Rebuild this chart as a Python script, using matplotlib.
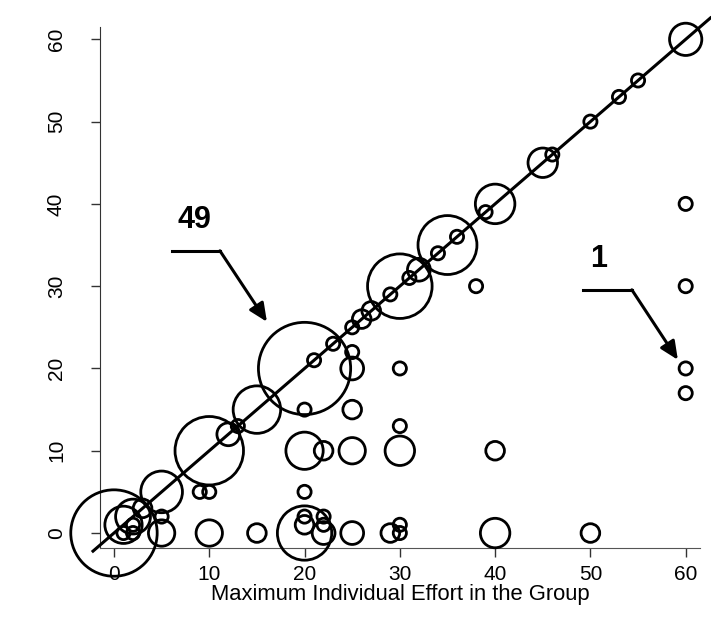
import matplotlib
matplotlib.use("Agg")
import matplotlib.pyplot as plt
import numpy as np

plt.rcParams['font.family'] = ['Liberation Sans', 'DejaVu Sans']

# %% Daten (x = max. Einzelaufwand, y = Gruppenwert, n = Anzahl)
x_max = [0, 1, 2, 3, 1, 2, 2, 5, 5, 5, 9, 10, 10, 10, 12, 13, 15, 15,
         20, 20, 20, 20, 20, 20, 20, 21, 22, 22, 22, 22, 23,
         25, 25, 25, 25, 25, 25, 26, 27, 29, 29,
         30, 30, 30, 30, 30, 30, 31, 32, 34, 35, 36, 38, 39,
         40, 40, 40, 45, 46, 50, 50, 53, 55, 60, 60, 60, 60, 60]
y_grp = [0, 1, 2, 3, 0, 0, 1, 5, 2, 0, 5, 5, 10, 0, 12, 13, 15, 0,
         20, 15, 10, 5, 2, 1, 0, 21, 10, 2, 1, 0, 23,
         25, 22, 20, 15, 10, 0, 26, 27, 29, 0,
         30, 20, 13, 10, 1, 0, 31, 32, 34, 35, 36, 30, 39,
         40, 10, 0, 45, 46, 50, 0, 53, 55, 60, 40, 30, 20, 17]
count = [43, 8, 7, 2, 1, 1, 1, 10, 1, 4, 1, 1, 27, 4, 3, 1, 13, 2,
         49, 1, 8, 1, 1, 2, 17, 1, 2, 1, 1, 3, 1,
         1, 1, 3, 2, 4, 3, 2, 2, 1, 2,
         24, 1, 1, 5, 1, 1, 1, 3, 1, 20, 1, 1, 1,
         9, 2, 5, 5, 1, 1, 2, 1, 1, 6, 1, 1, 1, 1]

ticks = [0, 10, 20, 30, 40, 50, 60]
diag_ends = [-2.2, 62.6]

# %% Plot
fig = plt.figure(figsize=(7.11, 6.32), dpi=100)
ax = fig.add_axes([0.1406, 0.1329, 0.8439, 0.8244])

ax.scatter(x_max, y_grp, s=np.array(count) * 90, facecolors='none',
           edgecolors='black', linewidths=2.0, clip_on=False, zorder=3)
ax.plot(diag_ends, diag_ends, color='black', lw=2.2, clip_on=False, zorder=4)

ax.set_xlim(-1.47, 61.5)
ax.set_ylim(-1.82, 61.5)
ax.set_xticks(ticks)
ax.set_yticks(ticks)
ax.tick_params(axis='both', labelsize=15, length=6.5, width=1, color='#333333')
ax.tick_params(axis='y', pad=18)
ax.tick_params(axis='x', pad=6)
for lab in ax.get_yticklabels():
    lab.set_rotation(90)
    lab.set_va('center')

for side in ['top', 'right']:
    ax.spines[side].set_visible(False)
ax.spines['left'].set_color('#333333')
ax.spines['bottom'].set_color('#555555')

ax.set_xlabel('Maximum Individual Effort in the Group', fontsize=15.8, labelpad=0)

# Annotationen
arrow_kw = dict(arrowstyle='-|>,head_length=0.55,head_width=0.25',
                color='black', lw=2.2, mutation_scale=20, shrinkA=0, shrinkB=0)

ax.text(8.45, 38.0, '49', fontsize=22, fontweight='bold', ha='center', va='center')
ax.plot([6.09, 11.12], [34.3, 34.3], color='black', lw=2.2, clip_on=False)
ax.annotate('', xy=(16.05, 25.67), xytext=(11.12, 34.3), arrowprops=arrow_kw)

ax.text(50.9, 33.3, '1', fontsize=22, fontweight='bold', ha='center', va='center')
ax.plot([49.2, 54.35], [29.56, 29.56], color='black', lw=2.2, clip_on=False)
ax.annotate('', xy=(59.18, 21.05), xytext=(54.35, 29.56), arrowprops=arrow_kw)

fig.savefig('out.png', dpi=100)
